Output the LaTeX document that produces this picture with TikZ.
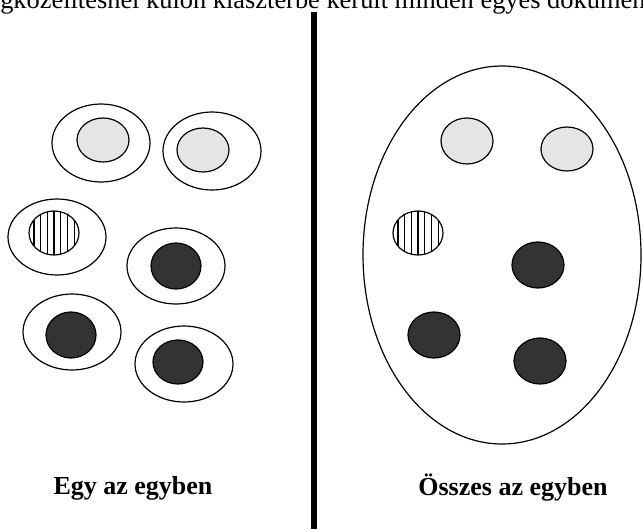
\documentclass[tikz,border=0pt]{standalone}
\usepackage{fontspec}
\setmainfont{Liberation Serif}
\usetikzlibrary{calc}
\definecolor{cpale}{gray}{0.90}
\definecolor{cdark}{gray}{0.20}

\begin{document}
\begin{tikzpicture}[
    x=0.75pt, y=-0.75pt,
    shell/.style={draw, line width=0.9pt},
    pale/.style={draw, fill=cpale, line width=0.9pt},
    dark/.style={draw, fill=cdark, line width=0.9pt},
    stripe/.style={draw, line width=0.9pt},
    caption/.style={font=\fontsize{19.5}{22}\selectfont\bfseries, inner sep=0pt, anchor=base},
]
\useasboundingbox (0,0) rectangle (643,529);

% cut-off heading line
\begin{scope}
  \clip (0,0) rectangle (643,529);
  \node[anchor=base west, inner sep=0pt, font=\fontsize{19.8}{22}\selectfont] (head) at (0,8)
    {gközelítésnél külön klaszterbe került minden egyes dokumen};
\end{scope}

% separator
\fill (311,12) rectangle (317,529);

% left: every document in its own cluster
\draw[shell] (101,143) ellipse [x radius=49, y radius=39];
\draw[pale]  (103,140) ellipse [x radius=26, y radius=22];
\draw[shell] (212,151) ellipse [x radius=49, y radius=39];
\draw[pale]  (203,150) ellipse [x radius=26, y radius=22];
\draw[shell] (57,237)  ellipse [x radius=49, y radius=38];
\draw[shell] (176,266) ellipse [x radius=49, y radius=38];
\draw[dark]  (176,266) ellipse [x radius=25, y radius=23];
\draw[shell] (72,332)  ellipse [x radius=49, y radius=38];
\draw[dark]  (71,335)  ellipse [x radius=25, y radius=23];
\draw[shell] (184,364) ellipse [x radius=49, y radius=38];
\draw[dark]  (178,362) ellipse [x radius=25, y radius=22];

% right: all documents in one cluster
\draw[shell] (502,255) ellipse [x radius=139, y radius=189];
\draw[pale]  (467,141) ellipse [x radius=26, y radius=23];
\draw[pale]  (567,149) ellipse [x radius=26, y radius=22];
\draw[dark]  (538,265) ellipse [x radius=26, y radius=23];
\draw[dark]  (434,335) ellipse [x radius=26, y radius=23];
\draw[dark]  (540,361) ellipse [x radius=26, y radius=23];

% striped documents
\foreach \cx/\cy in {54/233, 418/233} {
  \begin{scope}
    \clip (\cx,\cy) ellipse [x radius=25, y radius=22];
    \foreach \dx in {-20.1,-13.4,...,20.2}
      \draw[stripe] (\cx+\dx,\cy-25) -- (\cx+\dx,\cy+25);
  \end{scope}
  \draw[stripe] (\cx,\cy) ellipse [x radius=25, y radius=22];
}

\node[caption] (lone) at (133,494) {Egy az egyben};
\node[caption] (lall) at (513,495) {Összes az egyben};
\end{tikzpicture}
\end{document}
